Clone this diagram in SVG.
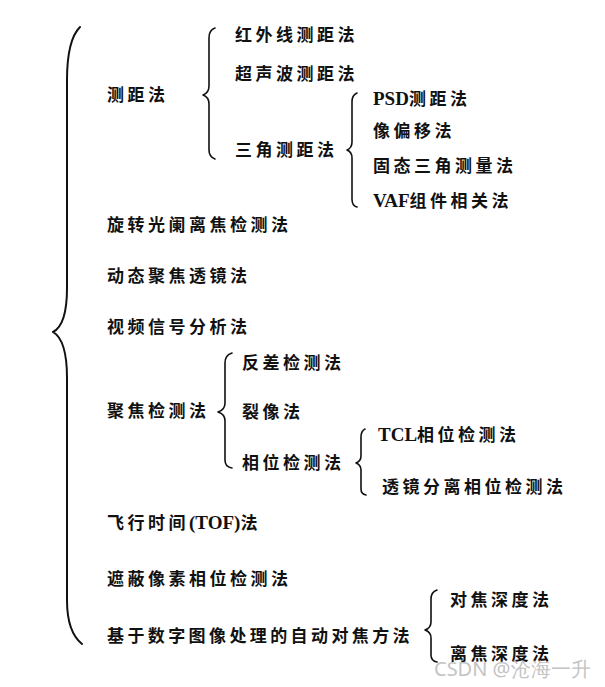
<svg xmlns="http://www.w3.org/2000/svg" width="605" height="687" viewBox="0 0 605 687">
<style>
.t{font-family:"Noto Sans CJK SC","Noto Sans",sans-serif;font-size:17px;font-weight:bold;fill:#111;letter-spacing:3.5px}
.w{letter-spacing:3.4px}
.l{font-family:"Liberation Serif","Times New Roman",serif;font-size:19px;font-weight:bold;letter-spacing:0}
.b{fill:none;stroke:#111;stroke-width:1.6;stroke-linecap:round;stroke-linejoin:round}
.m{stroke-width:2}
.wm{font-family:"Noto Sans","Liberation Sans",sans-serif;font-size:20px;fill:#bdbdbd;opacity:0.9}
</style>
<rect width="605" height="687" fill="#fff"/>
<g id="connectors">
<path class="b m" d="M80,27 Q67,40 67,80 L67,288 Q67,325 53,332 Q67,340 67,378 L67,600 Q67,632 82,644"/>
<path class="b" d="M215,28 Q209,30 209,38 L209,86 Q209,93 203,95 Q209,97 209,104 L209,150 Q209,157 215,159"/>
<path class="b" d="M357,93 Q352,95 352,102 L352,142 Q352,148 347,150 Q352,152 352,158 L352,199 Q352,206 357,207"/>
<path class="b" d="M232,353 Q225,355 225,363 L225,403 Q225,410 218,412 Q225,414 225,421 L225,460 Q225,467 232,468"/>
<path class="b" d="M365,429 Q361,431 361,437 L361,456 Q361,461 356,463 Q361,465 361,470 L361,489 Q361,494 366,495"/>
<path class="b" d="M437,590 Q431,592 431,599 L431,622 Q431,628 425,630 Q431,632 431,638 L431,655 Q431,661 437,662"/>
</g>
<g id="n-root-ranging"><text class="t" x="107" y="101">测距法</text></g>
<g id="n-ir"><text class="t" x="235" y="41">红外线测距法</text></g>
<g id="n-us"><text class="t" x="235" y="80">超声波测距法</text></g>
<g id="n-tri"><text class="t" x="235" y="156">三角测距法</text></g>
<g id="n-psd"><text class="t" x="373" y="105"><tspan class="l">PSD</tspan>测距法</text></g>
<g id="n-shift"><text class="t" x="373" y="137">像偏移法</text></g>
<g id="n-solid"><text class="t" x="373" y="172">固态三角测量法</text></g>
<g id="n-vaf"><text class="t" x="373" y="207"><tspan class="l">VAF</tspan>组件相关法</text></g>
<g id="n-rot"><text class="t" x="107" y="231">旋转光阑离焦检测法</text></g>
<g id="n-dyn"><text class="t" x="107" y="282">动态聚焦透镜法</text></g>
<g id="n-video"><text class="t" x="107" y="333">视频信号分析法</text></g>
<g id="n-focus"><text class="t" x="107" y="417">聚焦检测法</text></g>
<g id="n-contrast"><text class="t" x="242" y="369">反差检测法</text></g>
<g id="n-split"><text class="t" x="242" y="418">裂像法</text></g>
<g id="n-phase"><text class="t" x="242" y="469">相位检测法</text></g>
<g id="n-tcl"><text class="t" x="378" y="441"><tspan class="l">TCL</tspan>相位检测法</text></g>
<g id="n-lens"><text class="t" x="382" y="493">透镜分离相位检测法</text></g>
<g id="n-tof"><text class="t" x="107" y="529">飞行时间<tspan class="l">(TOF)</tspan>法</text></g>
<g id="n-mask"><text class="t" x="107" y="585">遮蔽像素相位检测法</text></g>
<g id="n-digital"><text class="t w" x="107" y="642">基于数字图像处理的自动对焦方法</text></g>
<g id="n-dff"><text class="t" x="450" y="606">对焦深度法</text></g>
<g id="n-dfd"><text class="t" x="450" y="660">离焦深度法</text></g>
<text class="wm" x="434" y="676">CSDN @沧海一升</text>
</svg>
